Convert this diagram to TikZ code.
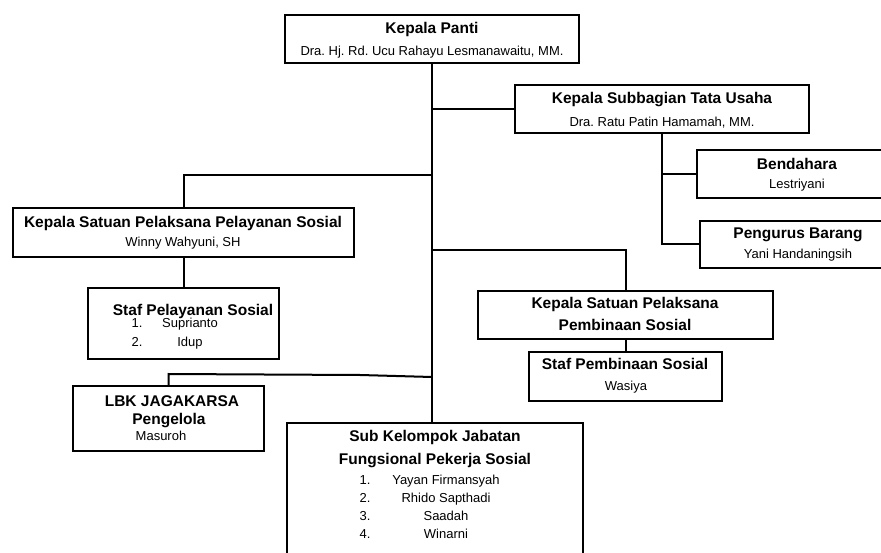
\documentclass[tikz,border=0pt]{standalone}
\usepackage{fontspec}
\setmainfont{Liberation Sans}
\frenchspacing

\begin{document}
\begin{tikzpicture}[x=1pt,y=1pt,yscale=-1,xscale=1,
  box/.style={draw, line width=2pt, inner sep=0pt},
  ttl/.style={font=\fontsize{15.5}{18}\selectfont\bfseries, inner sep=0pt, text height=11pt, text depth=2pt},
  nm/.style={font=\fontsize{13}{15}\selectfont, inner sep=0pt, text height=9.3pt, text depth=1.7pt}]
\useasboundingbox (0,0) rectangle (881,553);
\clip (0,0) rectangle (881,553);

%Shape: Rectangle
\draw (432,39) node [box, minimum width=294pt, minimum height=48pt] (panti) {};
%Shape: Rectangle
\draw (662,109) node [box, minimum width=294pt, minimum height=48pt] (tu) {};
%Shape: Rectangle
\draw (798,174) node [box, minimum width=202pt, minimum height=48pt] (bend) {};
%Shape: Rectangle
\draw (798.5,244.5) node [box, minimum width=197pt, minimum height=47pt] (barang) {};
%Shape: Rectangle
\draw (183.5,232.5) node [box, minimum width=341pt, minimum height=49pt] (yansos) {};
%Shape: Rectangle
\draw (183.5,323.5) node [box, minimum width=191pt, minimum height=71pt] (stafyan) {};
%Shape: Rectangle
\draw (625.5,315) node [box, minimum width=295pt, minimum height=48pt] (binsos) {};
%Shape: Rectangle
\draw (625.5,376.5) node [box, minimum width=193pt, minimum height=49pt] (stafbin) {};
%Shape: Rectangle
\draw (168.5,418.5) node [box, minimum width=191pt, minimum height=65pt] (lbk) {};
%Shape: Rectangle
\draw (435,511.5) node [box, minimum width=296pt, minimum height=177pt] (pokja) {};

\coordinate (kiri) at (panti.south |- 0,175);
\coordinate (kanan) at (panti.south |- 0,250);
\coordinate (bawah) at (panti.south |- 0,377);

%Straight Lines
\draw [line width=2pt] (panti.south) -- (panti.south |- pokja.north) ;
%Straight Lines
\draw [line width=2pt] (panti.south |- tu.west) -- (tu.west) ;
%Straight Lines
\draw [line width=2pt] (tu.south) |- (bend.west) ;
\draw [line width=2pt] (tu.south) |- (barang.west) ;
%Straight Lines
\draw [line width=2pt] (kiri) -| (yansos.north) ;
\draw [line width=2pt] (yansos.south) -- (stafyan.north) ;
%Straight Lines
\draw [line width=2pt] (kanan) -| (binsos.north) ;
\draw [line width=2pt] (binsos.south) -- (stafbin.north) ;
%Straight Lines
\draw [line width=2pt] (bawah) -- (360,375) -- (lbk.north |- 0,374) -- (lbk.north) ;

% Text Node
\draw (432,29) node [ttl] (pantiT) {Kepala Panti};
% Text Node
\draw (432,52) node [nm] (pantiN) {Dra. Hj. Rd. Ucu Rahayu Lesmanawaitu, MM.};
% Text Node
\draw (662,99) node [ttl] (tuT) {Kepala Subbagian Tata Usaha};
% Text Node
\draw (662,123) node [nm] (tuN) {Dra. Ratu Patin Hamamah, MM.};
% Text Node
\draw (797,165) node [ttl] (bendT) {Bendahara};
% Text Node
\draw (797,185) node [nm] (bendN) {Lestriyani};
% Text Node
\draw (798,234) node [ttl] (barangT) {Pengurus Barang};
% Text Node
\draw (798,255) node [nm] (barangN) {Yani Handaningsih};
% Text Node
\draw (183,223) node [ttl] (yansosT) {Kepala Satuan Pelaksana Pelayanan Sosial};
% Text Node
\draw (183,243) node [nm] (yansosN) {Winny Wahyuni, SH};
% Text Node
\draw (193,311) node [ttl] (stafyanT) {Staf Pelayanan Sosial};
% Text Node
\draw (137,324) node [nm] (stafyanA) {1.};
\draw (190,324) node [nm] (stafyanB) {Suprianto};
% Text Node
\draw (137,343) node [nm] (stafyanC) {2.};
\draw (190,343) node [nm] (stafyanD) {Idup};
% Text Node
\draw (625,304) node [ttl] (binsosT) {Kepala Satuan Pelaksana};
% Text Node
\draw (625,326) node [ttl] (binsosU) {Pembinaan Sosial};
% Text Node
\draw (625,365) node [ttl] (stafbinT) {Staf Pembinaan Sosial};
% Text Node
\draw (626,387) node [nm] (stafbinN) {Wasiya};
% Text Node
\draw (172,402) node [ttl] (lbkT) {LBK JAGAKARSA};
% Text Node
\draw (169,420) node [ttl] (lbkU) {Pengelola};
% Text Node
\draw (161,437) node [nm] (lbkN) {Masuroh};
% Text Node
\draw (435,437) node [ttl] (pokjaT) {Sub Kelompok Jabatan};
% Text Node
\draw (435,460) node [ttl] (pokjaU) {Fungsional Pekerja Sosial};
% Text Node
\draw (365,481) node [nm] (pokjaA) {1.};
\draw (446,481) node [nm] (pokjaB) {Yayan Firmansyah};
% Text Node
\draw (365,499) node [nm] (pokjaC) {2.};
\draw (446,499) node [nm] (pokjaD) {Rhido Sapthadi};
% Text Node
\draw (365,517) node [nm] (pokjaE) {3.};
\draw (446,517) node [nm] (pokjaF) {Saadah};
% Text Node
\draw (365,535) node [nm] (pokjaG) {4.};
\draw (446,535) node [nm] (pokjaH) {Winarni};

\end{tikzpicture}
\end{document}
